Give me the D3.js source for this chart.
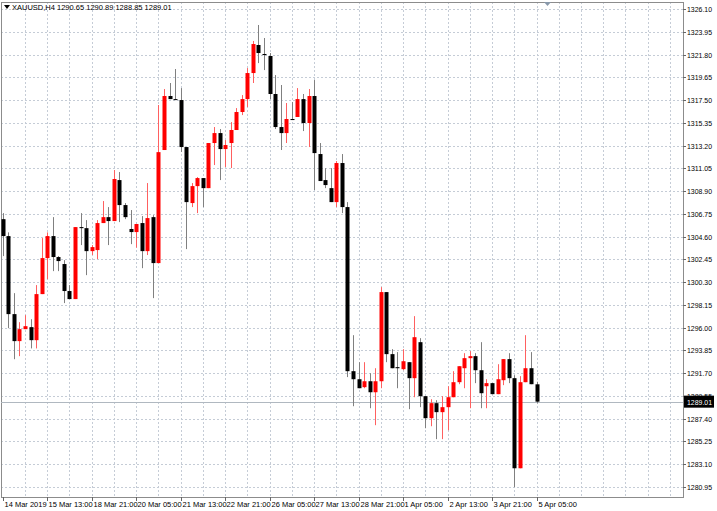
<!DOCTYPE html>
<html><head><meta charset="utf-8">
<script src="https://cdn.jsdelivr.net/npm/d3@7"></script>
<style>body{margin:0;background:#fff}svg{display:block}text{font-family:"Liberation Sans",Arial,sans-serif}</style>
</head><body><svg id="c" width="717" height="511"></svg>
<script>
const opens=[1306.25,1304.65,1297.28,1294.73,1295.86,1296.05,1294.82,1299.17,1302.57,1304.65,1302.67,1302.01,1299.46,1298.70,1305.50,1305.40,1303.23,1303.33,1305.88,1306.44,1306.07,1309.94,1307.58,1305.32,1305.03,1305.88,1303.23,1306.44,1302.10,1312.78,1317.88,1317.59,1317.50,1313.06,1307.77,1309.37,1310.13,1309.18,1313.44,1314.38,1312.87,1313.44,1314.67,1316.37,1317.59,1320.05,1322.70,1321.85,1321.66,1318.07,1314.95,1314.38,1315.71,1315.90,1317.59,1315.33,1317.88,1312.40,1309.94,1309.18,1307.86,1311.55,1307.39,1291.89,1291.13,1290.38,1290.94,1289.90,1290.94,1299.36,1293.50,1292.27,1292.08,1292.74,1291.23,1294.63,1289.53,1287.45,1288.87,1288.02,1288.49,1289.43,1290.85,1292.17,1293.12,1293.31,1291.98,1290.47,1290.76,1289.72,1291.04,1293.03,1291.23,1282.72,1290.85,1292.17,1290.65];
const highs=[1306.82,1305.00,1299.26,1296.52,1297.18,1296.80,1300.02,1304.46,1305.00,1306.44,1302.76,1302.38,1300.02,1305.50,1306.82,1306.16,1303.80,1306.16,1307.96,1307.39,1310.89,1310.70,1307.77,1307.11,1305.79,1306.54,1309.66,1306.63,1317.03,1318.54,1319.11,1320.43,1318.63,1313.06,1309.66,1310.22,1310.13,1313.44,1314.95,1314.76,1313.72,1315.42,1316.74,1317.97,1320.52,1323.08,1324.59,1323.36,1321.94,1319.86,1318.92,1317.22,1317.31,1318.63,1318.07,1318.54,1319.39,1313.44,1311.07,1311.07,1311.74,1312.40,1307.86,1295.29,1292.74,1292.74,1291.70,1292.17,1299.83,1299.36,1293.97,1293.69,1293.97,1292.74,1297.09,1295.01,1289.53,1289.24,1289.15,1289.53,1290.47,1291.89,1292.36,1293.59,1293.78,1293.59,1294.63,1291.13,1290.76,1292.55,1293.03,1293.59,1291.51,1291.42,1295.29,1293.69,1290.89];
const lows=[1302.76,1295.95,1293.02,1293.31,1295.86,1294.04,1294.04,1299.17,1300.58,1301.34,1301.34,1298.32,1298.70,1298.70,1303.80,1300.96,1302.86,1302.48,1305.88,1303.80,1306.07,1305.97,1306.25,1303.89,1303.56,1301.62,1302.86,1298.79,1302.10,1312.78,1317.59,1317.50,1312.59,1303.42,1307.39,1306.82,1307.39,1309.18,1311.36,1309.94,1311.17,1311.08,1314.67,1316.08,1316.84,1319.11,1320.99,1320.33,1317.59,1314.76,1312.78,1313.44,1315.61,1315.90,1314.57,1313.06,1309.00,1309.85,1309.18,1307.86,1307.39,1306.82,1291.33,1288.58,1290.28,1290.28,1288.39,1286.79,1290.28,1292.74,1292.17,1290.28,1291.98,1288.30,1289.43,1288.49,1286.50,1286.69,1285.47,1285.47,1286.31,1289.43,1290.66,1290.28,1288.39,1290.76,1288.39,1288.39,1289.72,1289.72,1290.57,1290.76,1280.93,1282.72,1290.85,1290.66,1288.85];
const closes=[1304.65,1297.28,1294.73,1295.86,1296.14,1294.82,1299.17,1302.57,1304.65,1302.67,1302.29,1299.46,1298.70,1305.50,1305.40,1303.23,1303.61,1305.88,1306.44,1306.07,1310.04,1307.58,1306.44,1305.03,1305.79,1303.23,1306.35,1302.10,1312.58,1317.88,1317.59,1317.50,1313.06,1307.86,1309.37,1310.13,1309.18,1313.44,1314.38,1312.87,1313.25,1314.67,1316.37,1317.59,1320.05,1322.79,1321.94,1321.75,1318.07,1314.95,1314.38,1315.71,1315.61,1317.59,1315.33,1317.88,1312.49,1309.85,1309.47,1307.86,1311.55,1307.39,1291.89,1291.13,1290.28,1290.94,1289.90,1290.94,1299.36,1293.50,1292.17,1292.17,1292.83,1291.23,1295.10,1289.53,1287.45,1288.87,1288.02,1288.49,1289.43,1290.85,1292.36,1293.12,1293.31,1291.98,1289.81,1290.76,1289.72,1291.13,1293.03,1291.23,1282.72,1290.85,1292.17,1290.66,1289.01];
const priceTicks=["1326.10","1323.95","1321.80","1319.65","1317.50","1315.35","1313.20","1311.05","1308.90","1306.75","1304.60","1302.45","1300.30","1298.15","1296.00","1293.85","1291.70","1289.55","1287.40","1285.25","1283.10","1280.95"];
const timeLabels=["14 Mar 2019","15 Mar 13:00","18 Mar 21:00","20 Mar 05:00","21 Mar 13:00","22 Mar 21:00","26 Mar 05:00","27 Mar 13:00","28 Mar 21:00","1 Apr 05:00","2 Apr 13:00","3 Apr 21:00","5 Apr 05:00"];
const title="XAUUSD,H4  1290.65 1290.89 1288.85 1289.01";
const lastPrice=1289.01;

const svg=d3.select("#c");
const L=1,R=683,T=2,B=497;
const x=d3.scaleLinear().domain([0,96]).range([2.7,536.5]);
const y=d3.scaleLinear().domain([1280.95,1326.10]).range([487,9]);
const g=svg.append("g");
priceTicks.forEach(t=>{const yy=Math.round(y(+t))+0.5;
 g.append("line").attr("x1",L).attr("x2",R).attr("y1",yy).attr("y2",yy).attr("stroke","#c5ccd6").attr("stroke-dasharray","2,2");});
for(let i=4;x(i)<R;i+=4){const xx=Math.round(x(i))+0.5;
 g.append("line").attr("x1",xx).attr("x2",xx).attr("y1",T).attr("y2",B).attr("stroke","#c5ccd6").attr("stroke-dasharray","2,2");}
svg.append("rect").attr("x",L+0.5).attr("y",T+0.5).attr("width",R-L).attr("height",B-T).attr("fill","none").attr("stroke","#8c8c8c");
const ly=Math.round(y(lastPrice))+0.5;
svg.append("line").attr("x1",L).attr("x2",R).attr("y1",ly).attr("y2",ly).attr("stroke","#b0b8c0");
const idx=d3.range(opens.length);
const cg=svg.append("g");
idx.forEach(i=>{const up=closes[i]>=opens[i];const col=up?"#ff0000":"#000000";
 const xx=Math.round(x(i))+0.5;
 cg.append("line").attr("x1",xx).attr("x2",xx).attr("y1",y(highs[i])).attr("y2",y(lows[i])).attr("stroke",up?"#ff6060":"#808080").attr("stroke-width",1);
 const top=y(Math.max(opens[i],closes[i])),bot=y(Math.min(opens[i],closes[i]));
 cg.append("rect").attr("x",xx-2).attr("y",top).attr("width",4).attr("height",Math.max(1,bot-top)).attr("fill",col);});
priceTicks.forEach(t=>{const yy=y(+t);
 svg.append("line").attr("x1",R).attr("x2",R+3).attr("y1",Math.round(yy)+0.5).attr("y2",Math.round(yy)+0.5).attr("stroke","#666");
 svg.append("text").attr("x",687).attr("y",yy+3).attr("font-size",7.5).attr("textLength",25).attr("lengthAdjust","spacingAndGlyphs").attr("fill","#000").text(t);});
svg.append("rect").attr("x",684).attr("y",y(lastPrice)-6).attr("width",30).attr("height",12).attr("fill","#000");
svg.append("text").attr("x",687).attr("y",y(lastPrice)+3).attr("font-size",7.5).attr("textLength",25).attr("lengthAdjust","spacingAndGlyphs").attr("fill","#fff").text(lastPrice.toFixed(2));
timeLabels.forEach((t,k)=>{const xx=Math.round(x(k*8))+0.5;
 svg.append("line").attr("x1",xx).attr("x2",xx).attr("y1",B).attr("y2",B+4).attr("stroke","#666");
 svg.append("text").attr("x",xx+1).attr("y",507).attr("font-size",7.5).attr("fill","#000").text(t);});
svg.append("path").attr("d","M4,5 L10,5 L7,9 Z").attr("fill","#000");
svg.append("text").attr("x",12).attr("y",10).attr("font-size",7.5).attr("fill","#000").text(title);
svg.append("path").attr("d","M544,2 L551,2 L547.5,6 Z").attr("fill","#8898aa");
</script></body></html>
